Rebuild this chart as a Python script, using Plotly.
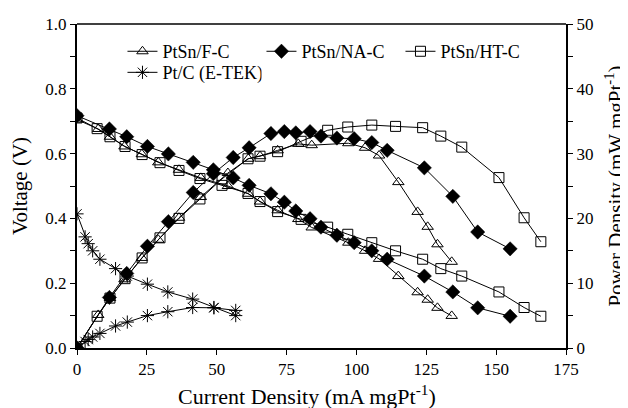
import plotly.graph_objects as go

# ---- data ----
fc_i = [0, 7.6, 11.8, 17.0, 23.2, 29.1, 36.5, 44.3, 54.0, 61.3, 65.5, 71.8, 79.2, 84.0, 97.1, 103.1, 108.1, 115.0, 121.9, 125.5, 129.0, 134.1]
fc_v = [0.705, 0.676, 0.652, 0.622, 0.598, 0.573, 0.550, 0.525, 0.500, 0.476, 0.452, 0.425, 0.398, 0.372, 0.325, 0.300, 0.275, 0.222, 0.172, 0.149, 0.124, 0.099]
fc_p = [0, 5.1, 7.7, 10.6, 13.9, 16.7, 20.1, 23.3, 27.0, 29.2, 29.6, 30.5, 31.5, 31.3, 31.6, 30.9, 29.7, 25.6, 21.0, 18.7, 16.0, 13.3]

na_i = [0, 11.6, 17.8, 25.2, 32.7, 41.6, 48.8, 55.9, 61.6, 69.4, 74.2, 78.3, 83.4, 87.3, 93.0, 99.2, 105.5, 111.0, 124.3, 134.5, 143.4, 155.0]
na_v = [0.717, 0.676, 0.652, 0.622, 0.599, 0.573, 0.550, 0.525, 0.502, 0.476, 0.450, 0.423, 0.399, 0.373, 0.348, 0.325, 0.300, 0.274, 0.222, 0.173, 0.124, 0.098]
na_p = [0, 7.8, 11.5, 15.7, 19.5, 24.0, 26.9, 29.4, 30.9, 33.1, 33.4, 33.2, 33.4, 32.7, 32.4, 32.3, 31.7, 30.5, 27.8, 23.4, 17.9, 15.3]

ht_i = [0, 7.2, 11.8, 17.2, 23.3, 29.7, 36.5, 44.0, 51.9, 61.2, 65.5, 71.8, 80.2, 89.7, 96.9, 105.5, 114.0, 123.7, 130.2, 137.7, 151.0, 160.0, 166.0]
ht_v = [0.710, 0.677, 0.652, 0.622, 0.597, 0.572, 0.548, 0.523, 0.502, 0.477, 0.452, 0.421, 0.397, 0.373, 0.351, 0.325, 0.300, 0.274, 0.245, 0.222, 0.173, 0.125, 0.098]
ht_p = [0, 4.9, 7.7, 10.7, 13.9, 17.0, 20.0, 23.0, 26.1, 29.2, 29.6, 30.3, 31.9, 33.6, 34.1, 34.4, 34.2, 34.0, 32.7, 31.0, 26.3, 20.1, 16.4]

et_i = [0, 2.9, 4.0, 5.6, 8.2, 13.8, 18.0, 25.2, 32.5, 41.4, 49.0, 56.8]
et_v = [0.414, 0.343, 0.322, 0.300, 0.274, 0.245, 0.222, 0.197, 0.173, 0.151, 0.125, 0.100]
et_p = [0, 1.0, 1.3, 1.7, 2.25, 3.4, 4.0, 5.0, 5.6, 6.25, 6.2, 5.8]

names = ["PtSn/F-C", "PtSn/NA-C", "PtSn/HT-C", "Pt/C (E-TEK)"]

x_ticks = [0, 25, 50, 75, 100, 125, 150, 175]

FONT = "Liberation Serif, Times New Roman, serif"

series = [
    (names[0], fc_i, fc_v, fc_p, dict(symbol="triangle-up-open", size=10, color="black", line=dict(width=1, color="black")), "legend"),
    (names[1], na_i, na_v, na_p, dict(symbol="diamond", size=11, color="black", line=dict(width=0.5, color="black")), "legend"),
    (names[2], ht_i, ht_v, ht_p, dict(symbol="square-open", size=10, color="black", line=dict(width=1, color="black")), "legend"),
    (names[3], et_i, et_v, et_p, dict(symbol="asterisk-open", size=11, color="black", line=dict(width=1, color="black")), "legend2"),
]

fig = go.Figure()
for name, xi, v, p, mk, lg in series:
    fig.add_trace(go.Scatter(x=xi, y=v, name=name, mode="lines+markers",
                             line=dict(color="black", width=1), marker=mk,
                             legendgroup=name, showlegend=True, yaxis="y", legend=lg))
    fig.add_trace(go.Scatter(x=xi, y=p, name=name, mode="lines+markers",
                             line=dict(color="black", width=1), marker=mk,
                             legendgroup=name, showlegend=False, yaxis="y2", legend=lg))

axis_common = dict(showgrid=False, zeroline=False, showline=True, linecolor="black",
                   linewidth=2, ticks="outside", ticklen=5, tickwidth=1, tickcolor="black",
                   automargin=False,
                   tickfont=dict(family=FONT, size=17, color="black"))

legend_common = dict(orientation="h", xanchor="left", yanchor="top",
                     bgcolor="rgba(0,0,0,0)", font=dict(family=FONT, size=18),
                     entrywidth=94, entrywidthmode="pixels", itemwidth=30, tracegroupgap=0)

fig.update_layout(
    width=620, height=400,
    margin=dict(l=69, r=62, t=16, b=60),
    paper_bgcolor="white", plot_bgcolor="white",
    font=dict(family=FONT, size=17, color="black"),
    xaxis=dict(range=[0, 175], tickvals=x_ticks, **axis_common),
    yaxis=dict(range=[0, 1], dtick=0.2, tickformat=".1f", **axis_common,
               minor=dict(dtick=0.1, ticks="outside", ticklen=5, tickcolor="black"),
               title=dict(text="Voltage (V)", font=dict(family=FONT, size=21), standoff=22)),
    yaxis2=dict(range=[0, 50], dtick=10, overlaying="y", side="right", **axis_common,
                minor=dict(dtick=5, ticks="outside", ticklen=5, tickcolor="black"),
                title=dict(text="Power Density (mW mgPt<sup>-1</sup>)", font=dict(family=FONT, size=21), standoff=16)),
    legend=dict(x=0.093, y=0.972, **legend_common),
    legend2=dict(x=0.093, y=0.907, **legend_common),
    annotations=[dict(text="Current Density (mA mgPt<sup>-1</sup>)", xref="paper", yref="paper",
                      x=0.470, y=0, yshift=-47, xanchor="center", yanchor="middle",
                      showarrow=False, font=dict(family=FONT, size=22, color="black"))],
    shapes=[dict(type="line", xref="paper", yref="paper", x0=0, x1=1, y0=1, y1=1,
                 line=dict(color="black", width=1.5))],
    showlegend=True,
)

fig.write_html("out.html")
